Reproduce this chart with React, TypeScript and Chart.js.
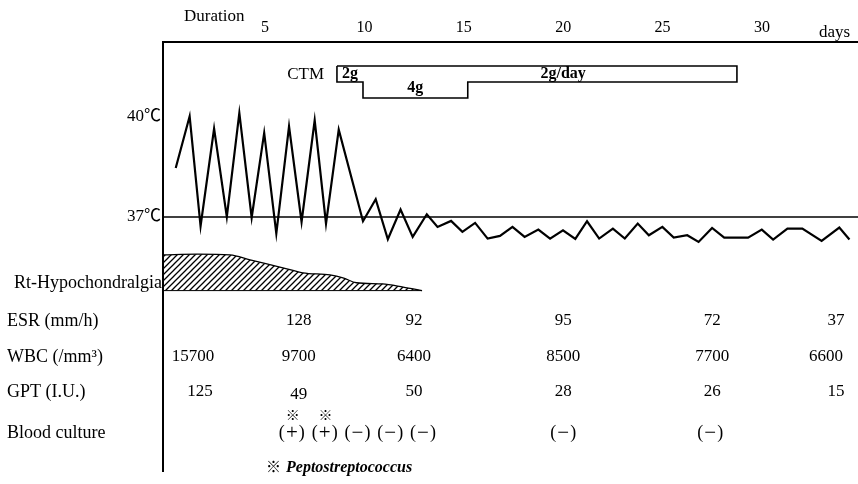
import React, { useEffect, useRef } from 'react';
import { Chart, registerables } from 'chart.js';

Chart.register(...registerables);

// ---------- data ----------
const dayTicks = [5, 10, 15, 20, 25, 30];
const tempTicks = [37, 40];

const tempDays = [0.51, 1.21, 1.76, 2.44, 3.08, 3.71, 4.33, 4.96, 5.57, 6.21, 6.84, 7.5, 8.07, 8.71, 9.93, 10.57, 11.18, 11.82, 12.43, 13.14, 13.68, 14.36, 14.93, 15.57, 16.2, 16.82, 17.45, 18.06, 18.75, 19.34, 19.99, 20.61, 21.2, 21.81, 22.5, 23.1, 23.75, 24.31, 24.99, 25.56, 26.24, 26.81, 27.49, 28.1, 29.3, 29.99, 30.56, 31.28, 32.03, 33.0, 33.89, 34.4];
const temps = [38.47, 40.02, 36.72, 39.65, 37.0, 40.12, 36.98, 39.52, 36.5, 39.72, 36.85, 39.9, 36.8, 39.62, 36.87, 37.53, 36.33, 37.22, 36.4, 37.08, 36.7, 36.88, 36.55, 36.82, 36.35, 36.43, 36.7, 36.4, 36.62, 36.35, 36.6, 36.34, 36.87, 36.35, 36.65, 36.35, 36.8, 36.45, 36.7, 36.38, 36.45, 36.25, 36.67, 36.38, 36.38, 36.62, 36.32, 36.65, 36.65, 36.28, 36.68, 36.32];

const painDays = [-0.13, 1.6, 3.24, 4.25, 5.9, 6.9, 8.27, 8.92, 9.6, 10.9, 11.95, 12.9];
const painLevels = [1.0, 1.02, 1.0, 0.86, 0.64, 0.5, 0.44, 0.36, 0.22, 0.19, 0.1, 0];

// CTM: start of 2g, start of 4g, end of 4g, end of therapy
const ctmDays = [8.62, 9.93, 15.2, 28.74];
const ctmDoseLevels = [2, 4, 2]; // g/day per phase
const ctmLabels = ['2g', '4g', '2g/day'];

const esrDays = [6.7, 12.5, 20, 27.5, 33.72];
const esrValues = ['128', '92', '95', '72', '37'];
const wbcDays = [1.38, 6.7, 12.5, 20, 27.5, 33.22];
const wbcValues = ['15700', '9700', '6400', '8500', '7700', '6600'];
const gptDays = [1.73, 6.7, 12.5, 20, 27.5, 33.72];
const gptValues = ['125', '49', '50', '28', '26', '15'];
const cultureDays = [6.35, 8.0, 9.65, 11.3, 12.95, 20.0, 27.4];
const cultureResults = ['+', '+', '−', '−', '−', '−', '−'];
const culturePepto = [true, true, false, false, false, false, false];

const X_MIN = -0.13;
const X_MAX = 34.83;

const F = "'Liberation Serif','Noto Sans CJK JP',serif";

const textPlugin = {
  id: 'texts',
  afterDraw(chart: any) {
    const ctx = chart.ctx as CanvasRenderingContext2D;
    const xs = chart.scales.x;
    const yd = chart.scales.yDose;
    const px = (d: number) => xs.getPixelForValue(d);
    ctx.save();
    ctx.fillStyle = '#000';
    ctx.textBaseline = 'middle';

    // header
    ctx.font = `17px ${F}`;
    ctx.textAlign = 'left';
    ctx.fillText('Duration', 184, 17);
    ctx.fillText('days', 819, 33);

    // CTM
    ctx.font = `17px ${F}`;
    ctx.textAlign = 'right';
    ctx.fillText('CTM', px(ctmDays[0] - 0.65), yd.getPixelForValue(1.1));
    ctx.textAlign = 'center';
    ctx.font = `bold 16px ${F}`;
    ctx.fillText(ctmLabels[0], px((ctmDays[0] + ctmDays[1]) / 2), yd.getPixelForValue(1));
    ctx.fillText(ctmLabels[1], px((ctmDays[1] + ctmDays[2]) / 2), yd.getPixelForValue(2.7));
    ctx.fillText(ctmLabels[2], px(20), yd.getPixelForValue(1));

    // row labels
    ctx.font = `18px ${F}`;
    ctx.textAlign = 'right';
    ctx.fillText('Rt-Hypochondralgia', 162, 283);
    ctx.textAlign = 'left';
    ctx.fillText('ESR (mm/h)', 7, 321);
    ctx.fillText('WBC (/mm³)', 7, 357);
    ctx.fillText('GPT (I.U.)', 7, 392);
    ctx.fillText('Blood culture', 7, 433);

    // values
    ctx.font = `17px ${F}`;
    ctx.textAlign = 'center';
    esrDays.forEach((d, i) => ctx.fillText(esrValues[i], px(d), 321));
    wbcDays.forEach((d, i) => ctx.fillText(wbcValues[i], px(d), 357));
    gptDays.forEach((d, i) => ctx.fillText(gptValues[i], px(d), i === 1 ? 395 : 392));

    // blood culture
    cultureDays.forEach((d, i) => {
      const c = px(d);
      ctx.font = `18px ${F}`;
      ctx.fillText('(', c - 10, 433);
      ctx.fillText(')', c + 10, 433);
      ctx.font = `21px ${F}`;
      ctx.fillText(cultureResults[i], c, 433);
      if (culturePepto[i]) {
        ctx.font = `14px ${F}`;
        ctx.fillText('※', c + 1, 416);
      }
    });

    // footnote
    ctx.textAlign = 'left';
    ctx.font = `15px ${F}`;
    ctx.fillText('※', 266, 468);
    ctx.font = `italic bold 16px ${F}`;
    ctx.fillText('Peptostreptococcus', 286, 468);
    ctx.restore();
  },
};

export default function App() {
  const ref = useRef<HTMLCanvasElement | null>(null);

  useEffect(() => {
    document.body.style.margin = '0';
    const canvas = ref.current!;
    const ctx = canvas.getContext('2d')!;

    const pc = document.createElement('canvas');
    pc.width = 6;
    pc.height = 6;
    const p = pc.getContext('2d')!;
    p.strokeStyle = '#000';
    p.lineWidth = 1.3;
    p.beginPath();
    p.moveTo(0, 6); p.lineTo(6, 0);
    p.moveTo(-1, 1); p.lineTo(1, -1);
    p.moveTo(5, 7); p.lineTo(7, 5);
    p.stroke();
    const pattern = ctx.createPattern(pc, 'repeat');

    const [s, a, b, e] = ctmDays;
    const [d1, d2, d3] = ctmDoseLevels;
    const ctmOutline = [
      { x: s, y: 0 }, { x: e, y: 0 }, { x: e, y: d3 }, { x: b, y: d3 },
      { x: b, y: d2 }, { x: a, y: d2 }, { x: a, y: d1 }, { x: s, y: d1 }, { x: s, y: 0 },
    ];

    const chart = new Chart(canvas, {
      type: 'line',
      data: {
        datasets: [
          {
            data: tempDays.map((d, i) => ({ x: d, y: temps[i] })),
            borderColor: '#000', borderWidth: 2.2, pointRadius: 0, tension: 0, yAxisID: 'y', fill: false,
          },
          {
            data: [{ x: X_MIN, y: 37 }, { x: X_MAX, y: 37 }],
            borderColor: '#000', borderWidth: 1.5, pointRadius: 0, yAxisID: 'y', fill: false,
          },
          {
            data: painDays.map((d, i) => ({ x: d, y: painLevels[i] })),
            borderColor: '#000', borderWidth: 1.3, pointRadius: 0, cubicInterpolationMode: 'monotone', yAxisID: 'yPain',
            fill: 'origin', backgroundColor: pattern as any,
          },
          {
            data: [{ x: painDays[0], y: 0 }, { x: painDays[painDays.length - 1], y: 0 }],
            borderColor: '#000', borderWidth: 1, pointRadius: 0, yAxisID: 'yPain', fill: false,
          },
          {
            data: ctmOutline,
            borderColor: '#000', borderWidth: 1.6, pointRadius: 0, tension: 0, yAxisID: 'yDose', fill: false,
          },
        ],
      },
      options: {
        animation: false,
        responsive: false,
        devicePixelRatio: 1,
        layout: { padding: { top: 0, left: 0, right: 0, bottom: 12 } },
        plugins: { legend: { display: false }, tooltip: { enabled: false } },
        scales: {
          x: {
            type: 'linear', position: 'top', min: X_MIN, max: X_MAX,
            afterBuildTicks: (sc: any) => { sc.ticks = dayTicks.map((v) => ({ value: v })); },
            afterFit: (sc: any) => { sc.height = 42; },
            grid: { display: false, drawTicks: false },
            border: { display: true, color: '#000', width: 2 },
            ticks: { color: '#000', padding: 5, font: { family: F, size: 16 }, maxRotation: 0 },
          },
          y: {
            type: 'linear', position: 'left', min: 29.35, max: 42.25,
            afterBuildTicks: (sc: any) => { sc.ticks = tempTicks.map((v) => ({ value: v })); },
            afterFit: (sc: any) => { sc.width = 163; },
            grid: { display: false, drawTicks: false },
            border: { display: true, color: '#000', width: 2 },
            ticks: { color: '#000', padding: 2, font: { family: F, size: 17 }, callback: (v: any) => `${v}℃` },
          },
          yPain: { type: 'linear', display: false, min: -5.08, max: 6.97 },
          yDose: { type: 'linear', display: false, reverse: true, min: -3, max: 50.75 },
        },
      },
      plugins: [textPlugin],
    } as any);

    return () => chart.destroy();
  }, []);

  return <canvas ref={ref} width={858} height={484} style={{ display: 'block' }} />;
}
